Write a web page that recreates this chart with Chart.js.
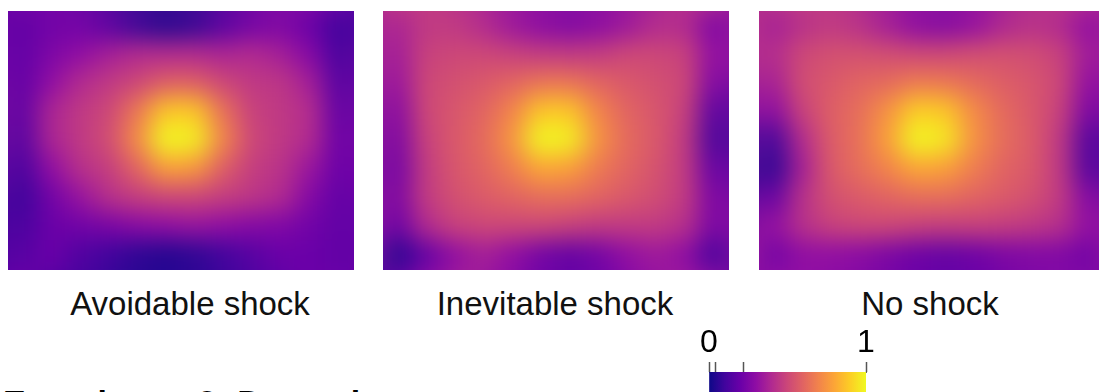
<!DOCTYPE html>
<html>
<head>
<meta charset="utf-8">
<script src="https://cdn.jsdelivr.net/npm/chart.js@4.4.1/dist/chart.umd.min.js"></script>
<style>
  html, body { margin: 0; padding: 0; background: #fff; }
  body { position: relative; width: 1099px; height: 392px; overflow: hidden; font-family: "Liberation Sans", Arial, sans-serif; }
  canvas { position: absolute; }
  .label { position: absolute; width: 400px; text-align: center; font-size: 33px; line-height: 1; color: #111; white-space: nowrap; }
  .title { position: absolute; left: 3px; top: 385px; font-size: 34px; line-height: 1; font-weight: bold; color: #000; white-space: nowrap; }
</style>
</head>
<body>
<canvas id="avoidable" width="346" height="259" style="left:8px; top:11px;"></canvas>
<canvas id="inevitable" width="346" height="259" style="left:383px; top:11px;"></canvas>
<canvas id="noshock" width="345" height="259" style="left:759px; top:11px;"></canvas>
<canvas id="colorbar" width="260" height="90" style="left:659px; top:327px;"></canvas>

<div class="label" style="left:-10px; top:287px;">Avoidable shock</div>
<div class="label" style="left:355px; top:287px;">Inevitable shock</div>
<div class="label" style="left:730px; top:287px;">No shock</div>
<div class="title">Experiment 2: Dynamic contexts</div>

<script>
// grid columns (left to right) and rows (top to bottom), values 0..1
const columns = ['c1', 'c2', 'c3', 'c4', 'c5', 'c6', 'c7', 'c8', 'c9', 'c10', 'c11', 'c12'];

const avoidableShock = [
    [0.18, 0.22, 0.22, 0.16, 0.08, 0.04, 0.07, 0.15, 0.22, 0.25, 0.20, 0.10],
    [0.18, 0.25, 0.30, 0.36, 0.40, 0.40, 0.40, 0.38, 0.40, 0.36, 0.27, 0.12],
    [0.18, 0.30, 0.40, 0.45, 0.50, 0.58, 0.58, 0.50, 0.45, 0.44, 0.36, 0.15],
    [0.17, 0.38, 0.45, 0.50, 0.66, 0.88, 0.88, 0.64, 0.48, 0.45, 0.41, 0.18],
    [0.15, 0.38, 0.45, 0.52, 0.72, 1.00, 0.98, 0.70, 0.50, 0.45, 0.40, 0.20],
    [0.12, 0.30, 0.42, 0.47, 0.60, 0.78, 0.76, 0.58, 0.47, 0.43, 0.33, 0.20],
    [0.09, 0.22, 0.32, 0.42, 0.47, 0.50, 0.50, 0.47, 0.44, 0.40, 0.27, 0.18],
    [0.12, 0.20, 0.22, 0.24, 0.28, 0.30, 0.32, 0.30, 0.27, 0.26, 0.22, 0.18],
    [0.15, 0.20, 0.14, 0.10, 0.06, 0.04, 0.06, 0.10, 0.15, 0.20, 0.20, 0.18]
];

const inevitableShock = [
    [0.38, 0.45, 0.45, 0.40, 0.33, 0.28, 0.25, 0.28, 0.33, 0.40, 0.40, 0.25],
    [0.35, 0.48, 0.50, 0.50, 0.48, 0.46, 0.45, 0.46, 0.50, 0.50, 0.48, 0.30],
    [0.32, 0.50, 0.53, 0.56, 0.60, 0.65, 0.65, 0.60, 0.56, 0.53, 0.50, 0.26],
    [0.27, 0.50, 0.55, 0.60, 0.70, 0.88, 0.88, 0.70, 0.60, 0.55, 0.48, 0.16],
    [0.24, 0.48, 0.56, 0.62, 0.75, 1.00, 0.98, 0.74, 0.62, 0.56, 0.46, 0.12],
    [0.22, 0.46, 0.55, 0.60, 0.68, 0.80, 0.78, 0.67, 0.60, 0.54, 0.46, 0.18],
    [0.24, 0.46, 0.53, 0.57, 0.60, 0.63, 0.63, 0.60, 0.56, 0.52, 0.46, 0.24],
    [0.20, 0.40, 0.48, 0.50, 0.50, 0.50, 0.48, 0.46, 0.46, 0.46, 0.42, 0.24],
    [0.05, 0.18, 0.30, 0.36, 0.30, 0.22, 0.18, 0.22, 0.30, 0.34, 0.30, 0.12]
];

const noShock = [
    [0.36, 0.42, 0.45, 0.42, 0.35, 0.28, 0.26, 0.30, 0.38, 0.42, 0.40, 0.30],
    [0.40, 0.50, 0.53, 0.53, 0.52, 0.50, 0.50, 0.52, 0.53, 0.52, 0.48, 0.34],
    [0.36, 0.52, 0.56, 0.60, 0.62, 0.67, 0.66, 0.62, 0.58, 0.55, 0.50, 0.30],
    [0.28, 0.48, 0.58, 0.63, 0.74, 0.90, 0.88, 0.72, 0.62, 0.56, 0.48, 0.24],
    [0.10, 0.40, 0.57, 0.64, 0.78, 1.00, 0.96, 0.74, 0.63, 0.57, 0.45, 0.14],
    [0.06, 0.36, 0.56, 0.63, 0.70, 0.80, 0.78, 0.68, 0.60, 0.56, 0.45, 0.14],
    [0.18, 0.42, 0.53, 0.57, 0.60, 0.63, 0.63, 0.60, 0.57, 0.53, 0.46, 0.26],
    [0.30, 0.42, 0.48, 0.50, 0.50, 0.48, 0.47, 0.48, 0.47, 0.45, 0.42, 0.30],
    [0.22, 0.30, 0.30, 0.28, 0.24, 0.20, 0.18, 0.20, 0.24, 0.26, 0.26, 0.22]
];

// colorbar ticks and labels
const colorbarTicks = [0, 0.04, 0.22, 1];
const colorbarLabels = ['0', '', '', '1'];

// plasma colormap stops
const plasmaStops = [
    [13, 8, 135], [65, 4, 157], [106, 0, 168], [143, 13, 164], [177, 42, 144],
    [204, 71, 120], [225, 100, 98], [242, 132, 75], [252, 166, 54], [252, 206, 37], [240, 249, 33]
];

function plasma(v) {
    const t = Math.min(Math.max(v, 0), 1) * (plasmaStops.length - 1);
    const i = Math.min(Math.floor(t), plasmaStops.length - 2);
    const f = t - i;
    const a = plasmaStops[i], b = plasmaStops[i + 1];
    const c = a.map((x, k) => Math.round(x + (b[k] - x) * f));
    return 'rgb(' + c.join(',') + ')';
}

// softens the cell grid the way the original smooth map looks
const softenPlugin = {
    id: 'soften',
    afterDatasetsDraw(chart) {
        const a = chart.chartArea;
        const ctx = chart.ctx;
        const w = Math.round(a.right - a.left), h = Math.round(a.bottom - a.top), m = 40;
        const off = document.createElement('canvas');
        off.width = w + 2 * m;
        off.height = h + 2 * m;
        const o = off.getContext('2d');
        o.drawImage(chart.canvas, a.left, a.top, w, h, 0, 0, w + 2 * m, h + 2 * m);
        o.drawImage(chart.canvas, a.left, a.top, w, h, m, m, w, h);
        ctx.save();
        ctx.beginPath();
        ctx.rect(a.left, a.top, w, h);
        ctx.clip();
        ctx.filter = 'blur(12px)';
        ctx.drawImage(off, a.left - m, a.top - m);
        ctx.restore();
    }
};

function initHeatmap(id, grid) {
    const ctx = document.getElementById(id).getContext('2d');
    const datasets = [];
    // bottom row first, so stacking builds the map upwards
    for (let r = grid.length - 1; r >= 0; r--) {
        datasets.push({
            data: grid[r].map(() => 1),
            backgroundColor: grid[r].map(plasma),
            borderWidth: 0,
            inflateAmount: 1,
            barPercentage: 1,
            categoryPercentage: 1
        });
    }
    return new Chart(ctx, {
        type: 'bar',
        data: { labels: columns, datasets: datasets },
        options: {
            responsive: false,
            animation: false,
            events: [],
            layout: { padding: 0 },
            plugins: { legend: { display: false }, tooltip: { enabled: false } },
            scales: {
                x: { display: false, stacked: true },
                y: { display: false, stacked: true, min: 0, max: grid.length }
            }
        },
        plugins: [softenPlugin]
    });
}

initHeatmap('avoidable', avoidableShock);
initHeatmap('inevitable', inevitableShock);
initHeatmap('noshock', noShock);

// Colorbar
const cbCtx = document.getElementById('colorbar').getContext('2d');
new Chart(cbCtx, {
    type: 'bar',
    data: {
        labels: ['scale'],
        datasets: [{
            data: [[0, 1]],
            borderWidth: 0,
            barPercentage: 1,
            categoryPercentage: 1,
            backgroundColor: function(context) {
                const chart = context.chart;
                const a = chart.chartArea;
                if (!a) return null;
                const g = chart.ctx.createLinearGradient(a.left, 0, a.right, 0);
                plasmaStops.forEach((s, i) => g.addColorStop(i / (plasmaStops.length - 1), 'rgb(' + s.join(',') + ')'));
                return g;
            }
        }]
    },
    options: {
        indexAxis: 'y',
        responsive: false,
        animation: false,
        events: [],
        layout: { padding: { left: 50, right: 53, top: 0, bottom: 0 } },
        plugins: { legend: { display: false }, tooltip: { enabled: false } },
        scales: {
            x: {
                position: 'top',
                min: 0,
                max: 1,
                z: 1,
                afterBuildTicks: function(scale) {
                    scale.ticks = colorbarTicks.map(v => ({ value: v }));
                },
                ticks: {
                    autoSkip: false,
                    maxRotation: 0,
                    padding: 0,
                    color: '#000',
                    font: { family: '"Liberation Sans", Arial, sans-serif', size: 32 },
                    callback: function(value, index) { return colorbarLabels[index]; }
                },
                grid: { drawOnChartArea: false, tickLength: 10, tickColor: '#555', tickWidth: 1.5 },
                border: { display: true, color: '#666', width: 1 }
            },
            y: { display: false }
        }
    }
});
</script>
</body>
</html>
